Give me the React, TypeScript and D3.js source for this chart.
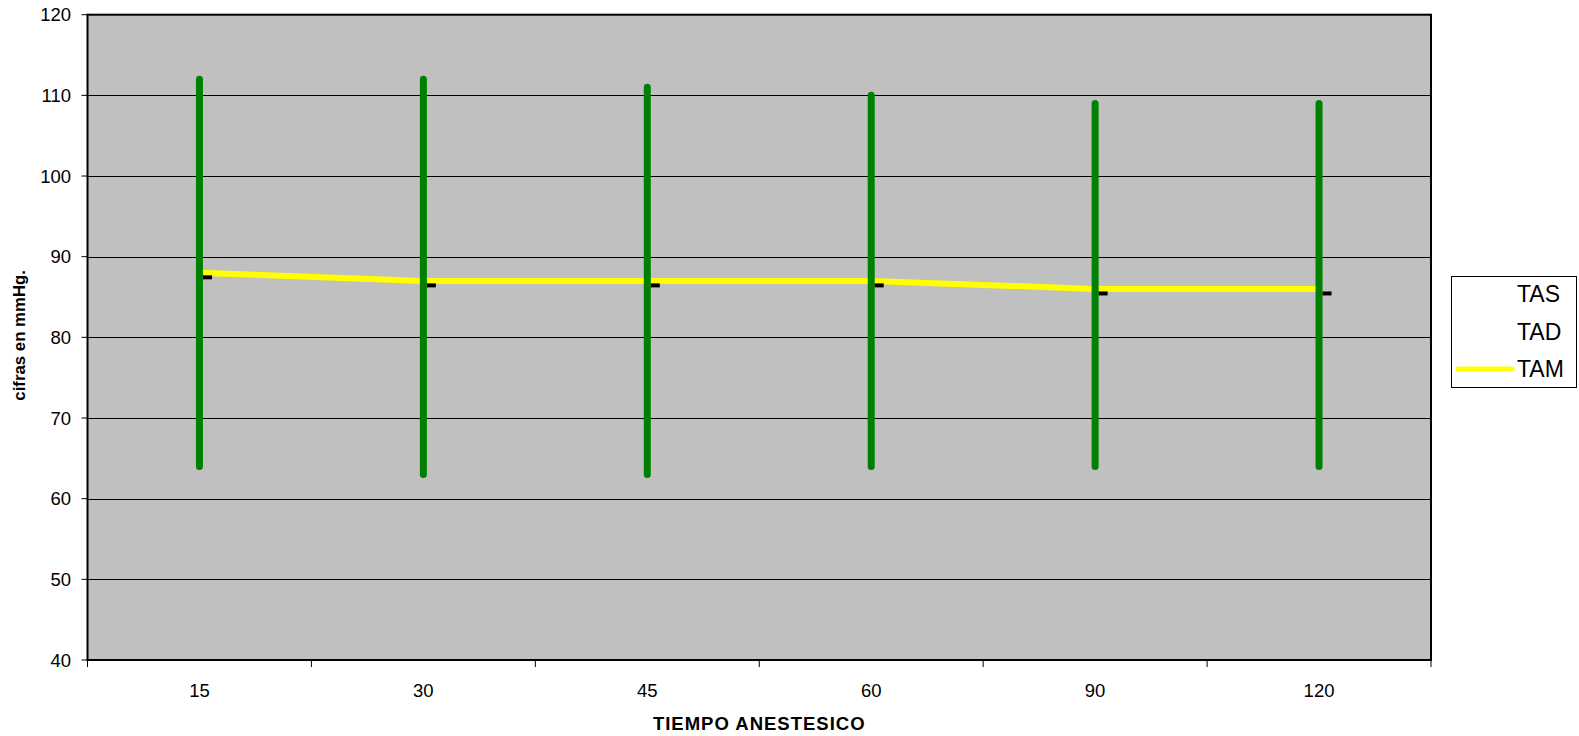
import * as d3 from "d3";

const categories = ["15", "30", "45", "60", "90", "120"];
const tas = [112, 112, 111, 110, 109, 109];
const tad = [64, 63, 63, 64, 64, 64];
const tam = [88, 87, 87, 87, 86, 86];
const yTicks = [40, 50, 60, 70, 80, 90, 100, 110, 120];
const legendItems = ["TAS", "TAD", "TAM"];

const W = 1579;
const H = 736;
const margin = { top: 14.7, right: 148, bottom: 76, left: 87.5 };
const font = "'Liberation Sans', Arial, Helvetica, sans-serif";

export default function App() {
  const x = d3
    .scaleBand()
    .domain(categories)
    .range([margin.left, W - margin.right]);
  const y = d3
    .scaleLinear()
    .domain([40, 120])
    .range([H - margin.bottom, margin.top]);

  const cx = (c: string) => (x(c) ?? 0) + x.bandwidth() / 2;
  const bottom = H - margin.bottom;
  const right = W - margin.right;

  const line = d3
    .line<number>()
    .x((_, i) => cx(categories[i]))
    .y((d) => y(d));

  const boundaries = categories.map((c) => x(c) ?? 0).concat([right]);

  return (
    <svg
      width={W}
      height={H}
      style={{ position: "absolute", left: 0, top: 0, fontFamily: font }}
    >
      {/* plot area */}
      <rect
        x={margin.left}
        y={margin.top}
        width={right - margin.left}
        height={bottom - margin.top}
        fill="#c0c0c0"
      />
      {/* gridlines */}
      {yTicks.slice(1, -1).map((t) => (
        <line
          key={t}
          x1={margin.left}
          x2={right}
          y1={Math.round(y(t)) + 0.5}
          y2={Math.round(y(t)) + 0.5}
          stroke="#000"
          strokeWidth={1}
        />
      ))}

      {/* TAM line */}
      <path
        d={line(tam) ?? ""}
        fill="none"
        stroke="#ffff00"
        strokeWidth={6}
        strokeLinecap="square"
      />

      {/* hi-lo bars */}
      {categories.map((c, i) => (
        <line
          key={c}
          x1={cx(c)}
          x2={cx(c)}
          y1={y(tas[i])}
          y2={y(tad[i])}
          stroke="#008000"
          strokeWidth={7}
          strokeLinecap="round"
        />
      ))}

      {/* close ticks */}
      {categories.map((c, i) => (
        <rect
          key={c}
          x={cx(c) + 3.5}
          y={y(tam[i]) + 2.5}
          width={9}
          height={4}
          fill="#000"
        />
      ))}

      {/* frame */}
      <rect
        x={margin.left}
        y={margin.top}
        width={right - margin.left}
        height={bottom - margin.top}
        fill="none"
        stroke="#000"
        strokeWidth={2}
      />

      {/* y axis */}
      {yTicks.map((t) => (
        <g key={t}>
          <line
            x1={margin.left - 6}
            x2={margin.left}
            y1={y(t)}
            y2={y(t)}
            stroke="#000"
            strokeWidth={1}
          />
          <text
            x={71}
            y={y(t)}
            dy="0.36em"
            textAnchor="end"
            fontSize={18.5}
            fill="#000"
          >
            {t}
          </text>
        </g>
      ))}

      {/* x axis */}
      {boundaries.map((b, i) => (
        <line
          key={i}
          x1={b}
          x2={b}
          y1={bottom}
          y2={bottom + 7}
          stroke="#000"
          strokeWidth={1}
        />
      ))}
      {categories.map((c) => (
        <text
          key={c}
          x={cx(c)}
          y={bottom + 36.5}
          textAnchor="middle"
          fontSize={18.5}
          fill="#000"
        >
          {c}
        </text>
      ))}

      {/* axis titles */}
      <text
        x={(margin.left + right) / 2}
        y={730}
        textAnchor="middle"
        fontSize={18.5}
        fontWeight="bold"
        letterSpacing={1}
        fill="#000"
      >
        TIEMPO ANESTESICO
      </text>
      <text
        transform={`translate(24.5,${(margin.top + bottom) / 2 - 2}) rotate(-90)`}
        textAnchor="middle"
        fontSize={16.8}
        fontWeight="bold"
        fill="#000"
      >
        cifras en mmHg.
      </text>

      {/* legend */}
      <g transform="translate(1451,276)">
        <rect
          x={0.5}
          y={0.5}
          width={125}
          height={111}
          fill="#fff"
          stroke="#000"
          strokeWidth={1}
        />
        {legendItems.map((name, i) => (
          <g key={name} transform={`translate(0,${18 + i * 37.5})`}>
            {name === "TAM" && (
              <line
                x1={7}
                x2={61}
                y1={0}
                y2={0}
                stroke="#ffff00"
                strokeWidth={5}
                strokeLinecap="round"
              />
            )}
            <text x={66} y={0} dy="0.36em" fontSize={23} fill="#000">
              {name}
            </text>
          </g>
        ))}
      </g>
    </svg>
  );
}
